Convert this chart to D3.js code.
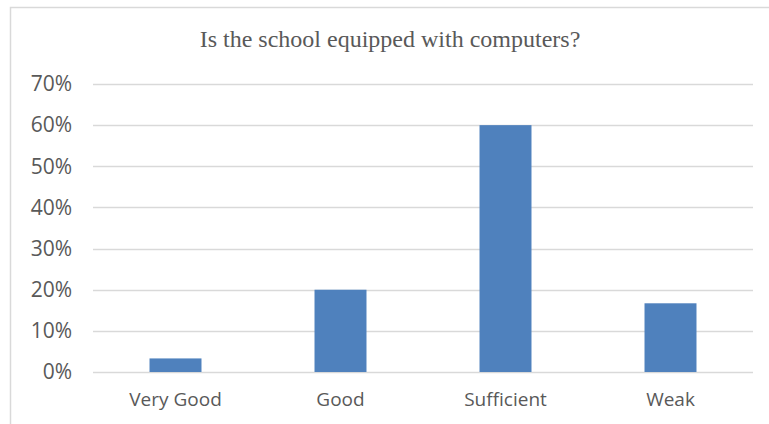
<!DOCTYPE html>
<html>
<head>
<meta charset="utf-8">
<script src="https://cdn.jsdelivr.net/npm/d3@7"></script>
<style>
  html, body { margin: 0; padding: 0; background: #ffffff; }
  svg { display: block; }
</style>
</head>
<body>
<div id="chart"></div>
<script>
const categories = ["Very Good", "Good", "Sufficient", "Weak"];
const values = [0.033, 0.20, 0.60, 0.167];
const yTicks = [0, 0.1, 0.2, 0.3, 0.4, 0.5, 0.6, 0.7];
const title = "Is the school equipped with computers?";

const W = 769, H = 424;
const plot = { left: 93, right: 753, top: 84, bottom: 372 };

const svg = d3.select("#chart").append("svg")
  .attr("width", W).attr("height", H);

// chart frame (only top and left edges visible in the crop)
svg.append("rect")
  .attr("x", 10.5).attr("y", 7.5)
  .attr("width", 900).attr("height", 600)
  .attr("fill", "#fff")
  .attr("stroke", "#d9d9d9").attr("stroke-width", 1.5);

const x = d3.scaleBand()
  .domain(categories)
  .range([plot.left, plot.right])
  .paddingInner(0.685)
  .paddingOuter(0.3425);

const y = d3.scaleLinear()
  .domain([0, 0.7])
  .range([plot.bottom, plot.top]);

// gridlines
svg.append("g")
  .selectAll("line")
  .data(yTicks)
  .join("line")
  .attr("x1", plot.left).attr("x2", plot.right)
  .attr("y1", d => Math.round(y(d)) + 0.5)
  .attr("y2", d => Math.round(y(d)) + 0.5)
  .attr("stroke", "#d9d9d9").attr("stroke-width", 1.5);

// y axis
const yAxis = d3.axisLeft(y)
  .tickValues(yTicks)
  .tickFormat(d3.format(".0%"))
  .tickSize(0)
  .tickPadding(0);
const gy = svg.append("g")
  .attr("transform", `translate(72,0)`)
  .call(yAxis);
gy.select(".domain").remove();
gy.selectAll("text")
  .attr("fill", "#595959")
  .style("font-family", "'Segoe UI', 'Open Sans', sans-serif")
  .style("font-size", "21px");

// bars
svg.append("g")
  .selectAll("rect")
  .data(categories.map((c, i) => ({ c, v: values[i] })))
  .join("rect")
  .attr("x", d => x(d.c))
  .attr("width", x.bandwidth())
  .attr("y", d => y(d.v))
  .attr("height", d => y(0) - y(d.v))
  .attr("fill", "#4f81bd");

// x axis
const xAxis = d3.axisBottom(x).tickSize(0).tickPadding(0);
const gx = svg.append("g")
  .attr("transform", `translate(0,${plot.bottom})`)
  .call(xAxis);
gx.select(".domain").remove();
gx.selectAll("text")
  .attr("y", 34)
  .attr("dy", 0)
  .attr("fill", "#595959")
  .style("font-family", "'Segoe UI', 'Open Sans', sans-serif")
  .style("font-size", "19px");

// title
svg.append("text")
  .attr("x", 390).attr("y", 47)
  .attr("text-anchor", "middle")
  .attr("fill", "#595959")
  .style("font-family", "'Liberation Serif', 'Times New Roman', serif")
  .style("font-size", "24px")
  .text(title);
</script>
</body>
</html>
